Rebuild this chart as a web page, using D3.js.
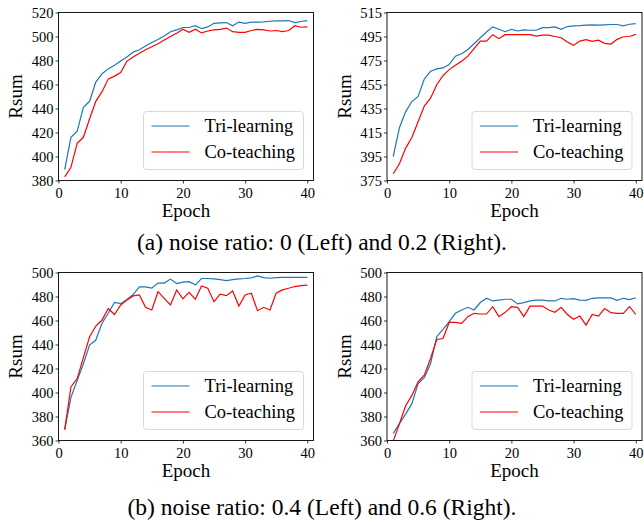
<!DOCTYPE html>
<html>
<head>
<meta charset="utf-8">
<script src="https://cdn.jsdelivr.net/npm/d3@7"></script>
<style>
  body { margin: 0; background: #fff; }
  svg { display: block; font-family: "Liberation Serif", "Times New Roman", serif; }
</style>
</head>
<body>
<svg id="chart" width="644" height="523"></svg>
<script>
// epochs shared by every panel
var epochs = d3.range(1, 41);

// noise ratio 0
var triNoise0 = [389, 416, 421, 441, 446, 462, 469, 473, 476, 479.5,
  483, 487, 489, 492, 495, 497.5, 500.5, 504, 505.5, 507.5,
  507.5, 509, 506.5, 508, 511, 511.3, 511.6, 509, 512, 511,
  512, 512, 512.2, 512.7, 513, 513, 513.3, 511.6, 512.5, 513.3];
var coNoise0 = [383, 391, 411, 416, 431.5, 446, 454, 464.5, 467, 470,
  479.5, 483, 486, 489, 491.5, 494, 497, 500, 502.7, 506,
  503.5, 506, 503, 504.6, 505.5, 506, 507, 504, 503.5, 503.5,
  505, 506, 505.5, 504.6, 505, 504, 505, 509, 507.7, 508];

// noise ratio 0.2
var triNoise02 = [395, 419, 432.4, 440.8, 445, 459.6, 466, 468, 468.8, 471.6,
  478.6, 480.6, 484.2, 489, 494, 498.8, 503, 501, 499, 501,
  499.6, 500.5, 500.2, 500.2, 502.4, 502.4, 503, 501, 503.3, 503.8,
  504, 504.4, 504.7, 504.4, 504.7, 505, 505, 503.8, 505.2, 505.8];
var coNoise02 = [380.6, 389, 402, 410.8, 424, 437, 443.6, 454.8, 462.4, 467.4,
  471, 474.4, 478.6, 484.8, 491.2, 491.2, 496.5, 493.2, 496.5, 496.5,
  496.5, 496.5, 496.5, 495.4, 496.2, 496.2, 495, 494, 490.4, 487.6,
  491.2, 492.3, 491, 492, 489.3, 488.7, 492.6, 494.8, 495, 496.8];

// noise ratio 0.4
var triNoise04 = [369, 396, 410, 424, 439.5, 443.7, 457.7, 466, 475, 474,
  477.5, 481.6, 488, 488, 487, 491.2, 491.2, 494.5, 490.8, 492,
  492.4, 489.7, 495, 495, 494.7, 494, 493.3, 494, 494.7, 495,
  495.5, 497.2, 495.8, 495.2, 495.8, 496, 496, 496, 496, 496];
var coNoise04 = [369, 404.6, 411.6, 429, 446.4, 455.4, 460.4, 470, 465, 473,
  477, 480.5, 481.3, 471, 468.8, 484, 478.5, 473, 485.5, 478,
  483.5, 477.7, 488.8, 486.9, 475.7, 482, 480.7, 484.6, 472, 481.3,
  482.7, 468.2, 471, 468.8, 482.7, 485.5, 486.9, 488.3, 489, 489.4];

// noise ratio 0.6
var triNoise06 = [366, 374, 382, 390.7, 407.4, 412.4, 424, 446.5, 452.6, 459,
  466, 468.8, 471, 468.8, 475, 478.5, 476.3, 477, 477.7, 477.7,
  473.8, 474.9, 476.3, 477, 477, 476.3, 476.3, 478.5, 477.7, 478.2,
  477, 476.8, 478.5, 478.8, 478.8, 478.8, 476.8, 478.5, 477.4, 479];
var coNoise06 = [359.5, 374, 389, 397.6, 408.8, 414.4, 428.3, 444.2, 445, 458.4,
  458.4, 457.6, 463.2, 466, 465.4, 465.4, 471.5, 463.2, 466.8, 471.5,
  471, 463.2, 472, 472, 472, 468.8, 466.8, 471, 465, 461,
  463.7, 456.2, 465, 463.7, 469.9, 466.5, 466, 466, 471.5, 465];

// tick labels
var xTicks = [0, 10, 20, 30, 40];
var yTicksA = [380, 400, 420, 440, 460, 480, 500, 520];
var yTicksB = [375, 395, 415, 435, 455, 475, 495, 515];
var yTicksC = [360, 380, 400, 420, 440, 460, 480, 500];

var seriesNames = ["Tri-learning", "Co-teaching"];
var seriesColors = ["#1f77b4", "#ff0000"];

var captions = ["(a) noise ratio: 0 (Left) and 0.2 (Right).",
  "(b) noise ratio: 0.4 (Left) and 0.6 (Right)."];

var svg = d3.select("#chart");

// draw one small panel
function drawPanel(id, left, top, yTicks, tri, co) {
  var width = 255, height = 168;

  var x = d3.scaleLinear().domain([0, 41]).range([0, width]);
  var y = d3.scaleLinear().domain([yTicks[0], yTicks[yTicks.length - 1]]).range([height, 0]);

  var g = svg.append("g").attr("transform", "translate(" + left + "," + top + ")");

  g.append("clipPath").attr("id", "clip" + id)
    .append("rect").attr("width", width).attr("height", height);

  // axes
  var xAxis = g.append("g")
    .attr("transform", "translate(0," + height + ")")
    .call(d3.axisBottom(x).tickValues(xTicks).tickSize(3).tickPadding(4));
  var yAxis = g.append("g")
    .call(d3.axisLeft(y).tickValues(yTicks).tickSize(3).tickPadding(2));

  [xAxis, yAxis].forEach(function(a) {
    a.select(".domain").remove();
    a.selectAll("line").attr("stroke", "#000").attr("stroke-width", 0.8);
    a.selectAll("text").attr("fill", "#000").style("font-size", "14.5px")
      .style("font-family", "Liberation Serif");
  });

  // lines
  var line = d3.line()
    .x(function(d, i) { return x(epochs[i]); })
    .y(function(d) { return y(d); });

  [tri, co].forEach(function(s, i) {
    g.append("path")
      .datum(s)
      .attr("clip-path", "url(#clip" + id + ")")
      .attr("fill", "none")
      .attr("stroke", seriesColors[i])
      .attr("stroke-width", 1.2)
      .attr("d", line);
  });

  // frame
  g.append("rect")
    .attr("width", width).attr("height", height)
    .attr("fill", "none").attr("stroke", "#000").attr("stroke-width", 0.9);

  // axis titles
  g.append("text")
    .attr("transform", "translate(-43," + height / 2 + ") rotate(-90)")
    .attr("text-anchor", "middle")
    .attr("dy", "0.35em")
    .style("font-size", "19px")
    .text("Rsum");
  g.append("text")
    .attr("x", width / 2).attr("y", height + 36)
    .attr("text-anchor", "middle")
    .style("font-size", "19px")
    .text("Epoch");

  // legend
  var lg = g.append("g").attr("transform", "translate(" + (width - 170) + "," + (height - 69) + ")");
  lg.append("rect")
    .attr("width", 160).attr("height", 58).attr("rx", 3)
    .attr("fill", "#fff").attr("fill-opacity", 0.8)
    .attr("stroke", "#d5d5d5").attr("stroke-width", 0.9);
  seriesNames.forEach(function(name, i) {
    var ry = 14.5 + i * 26;
    lg.append("line")
      .attr("x1", 8).attr("x2", 46).attr("y1", ry).attr("y2", ry)
      .attr("stroke", seriesColors[i]).attr("stroke-width", 1.2);
    lg.append("text")
      .attr("x", 61).attr("y", ry).attr("dy", "0.33em")
      .style("font-size", "18.5px")
      .text(name);
  });
}

drawPanel("a", 58.5, 12.5, yTicksA, triNoise0, coNoise0);
drawPanel("b", 387, 12.5, yTicksB, triNoise02, coNoise02);
drawPanel("c", 58.5, 272.5, yTicksC, triNoise04, coNoise04);
drawPanel("d", 387, 272.5, yTicksC, triNoise06, coNoise06);

// captions
svg.selectAll(".caption")
  .data(captions)
  .enter()
  .append("text")
  .attr("class", "caption")
  .attr("x", 322)
  .attr("y", function(d, i) { return i === 0 ? 242 : 507; })
  .attr("dy", "0.35em")
  .attr("text-anchor", "middle")
  .style("font-size", "23.5px")
  .text(function(d) { return d; });
</script>
</body>
</html>
